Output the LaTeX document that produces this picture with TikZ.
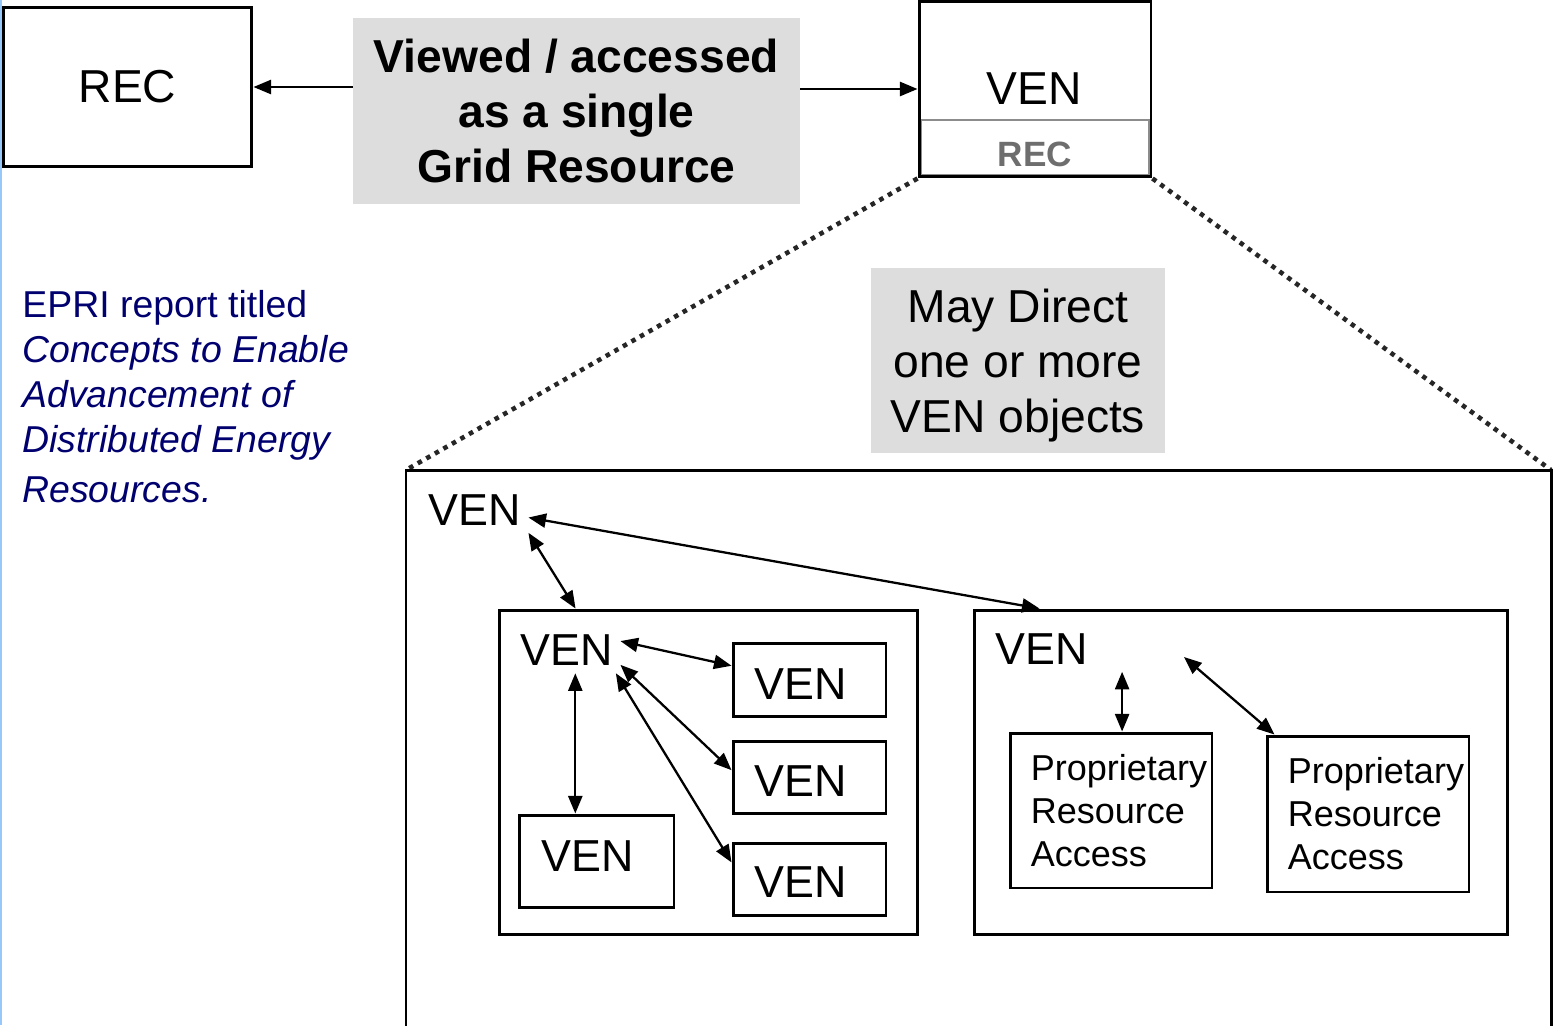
\documentclass[tikz,border=0pt]{standalone}
\usepackage{fontspec}
\setmainfont{Liberation Sans}
\usepackage{xcolor}
\usepackage{tikz}
\usetikzlibrary{positioning,calc,arrows.meta}

\definecolor{boxgray}{RGB}{221,221,221}
\definecolor{recgray}{RGB}{110,110,110}
\definecolor{epriblue}{RGB}{0,0,110}
\definecolor{edgeblue}{RGB}{150,200,250}

\newcommand{\bigfont}{\fontsize{26.3}{31.3}\selectfont}
\newcommand{\venfont}{\fontsize{25.5}{30}\selectfont}
\newcommand{\recfont}{\fontsize{20}{22}\selectfont\bfseries}
\newcommand{\eprifont}{\fontsize{21.3}{25.6}\selectfont}
\newcommand{\prafont}{\fontsize{20.5}{24.5}\selectfont}
\newcommand{\vtext}{VEN\kern0.36cm}

\begin{document}
\begin{tikzpicture}[x=0.02cm,y=-0.02cm,
  box/.style={draw,line width=1.7pt,inner sep=0pt},
  venbox/.style={box,font=\venfont,text depth=0pt},
  shade/.style={fill=boxgray,inner sep=0pt,align=center},
  tag/.style={inner sep=4pt,font=\venfont},
  arr/.style={-{Triangle[length=10pt,width=8pt]},line width=1.3pt},
  biarr/.style={{Triangle[length=10pt,width=8pt]}-{Triangle[length=10pt,width=8pt]},line width=1.3pt},
  zoomline/.style={draw=black!85,line width=2.6pt,dash pattern=on 2.6pt off 3pt}]
\useasboundingbox (0,0) rectangle (1554,1025);
\fill[edgeblue] (0,0) rectangle (2,1025);

% top row
\node[box,minimum width=4.98cm,minimum height=3.2cm,font=\bigfont] (rec) at (127.5,87) {REC};
\node[shade,minimum width=8.94cm,minimum height=3.72cm,font=\bigfont\bfseries] (single) at (576.5,111)
  {Viewed / accessed\\as a single\\Grid Resource};
\node[draw=black!45,line width=1.2pt,inner sep=0pt,minimum width=4.56cm,minimum height=1.1cm,
  text=recgray,font=\recfont,text height=21.7pt,text depth=0pt] (recsub) at (1035,147.5) {REC};
\node[box,minimum width=4.64cm,minimum height=3.52cm] (vtop) at (1035,89) {};
\node[inner sep=0pt,font=\bigfont] (ventop) at (1034,88.5) {VEN};
\draw[arr] (single.west |- rec.east) -- (rec.east);
\draw[arr] (single.east |- vtop.west) -- (vtop.west);

% zoomed view
\coordinate (bigNW) at (406,470);
\coordinate (bigNE) at (1551,470);
\draw[zoomline] (vtop.south west) -- (bigNW);
\draw[zoomline] (vtop.south east) -- (bigNE);
\draw[line width=1.7pt] (406,1040) -- (bigNW) -- (bigNE) -- (1551,1040);

\node[shade,minimum width=5.88cm,minimum height=3.7cm,font=\bigfont,text depth=0pt] (direct) at (1018,360.5)
  {May Direct\\one or more\\VEN objects};

\node[anchor=north west,inner sep=0pt,align=left,text=epriblue,font=\eprifont] (epri) at (22,290)
  {EPRI report titled\\\textit{Concepts to Enable}\\\textit{Advancement of}\\
   \textit{Distributed Energy}\\[2.8pt]\textit{Resources.}};

% inner VENs
\node[tag] (venA) at (475,510) {VEN};
\node[box,minimum width=8.38cm,minimum height=6.5cm] (lbox) at (708.5,772.5) {};
\node[box,minimum width=10.68cm,minimum height=6.5cm] (rbox) at (1241,772.5) {};
\draw[biarr] (venA.south east) -- ($(lbox.north west)+(78,0)$);
\draw[biarr] (venA.-8) -- ($(rbox.north west)+(67,0)$);

% left group
\node[tag] (venB) at (567,650.5) {VEN};
\node[venbox,minimum width=3.06cm,minimum height=1.46cm,text height=22.9pt] (b1) at (809.5,679.5) {\vtext};
\node[venbox,minimum width=3.06cm,minimum height=1.44cm,text height=21.7pt] (b2) at (809.5,777) {\vtext};
\node[venbox,minimum width=3.06cm,minimum height=1.44cm,text height=20.6pt] (b3) at (809.5,879) {\vtext};
\node[venbox,minimum width=3.1cm,minimum height=1.84cm,text height=18.3pt,text depth=6.8pt] (b4) at (596.5,861) {\vtext};
\draw[biarr] (venB.10) -- (b1.170);
\draw[biarr] (venB.-15) -- (b2.175);
\draw[biarr] (venB.-25) -- (b3.168);
\draw[biarr] (venB.-70) -- (venB.-70 |- b4.north);

% right group
\node[tag] (venC) at (1042,649) {VEN};
\node[box,minimum width=4.04cm,minimum height=3.1cm] (p1) at (1111,810.5) {};
\node[box,minimum width=4.04cm,minimum height=3.12cm] (p2) at (1368,814) {};
\node[anchor=west,inner sep=0pt,align=left,font=\prafont] (p1text) at ([xshift=0.44cm]p1.west)
  {Proprietary\\Resource\\Access};
\node[anchor=west,inner sep=0pt,align=left,font=\prafont] (p2text) at ([xshift=0.44cm]p2.west)
  {Proprietary\\Resource\\Access};
\coordinate (venCr) at (1184,657);
\draw[biarr] (p1.82 |- venC.south) -- (p1.82);
\draw[biarr] (venCr) -- ([xshift=0.18cm]p2.north west);
\end{tikzpicture}
\end{document}
